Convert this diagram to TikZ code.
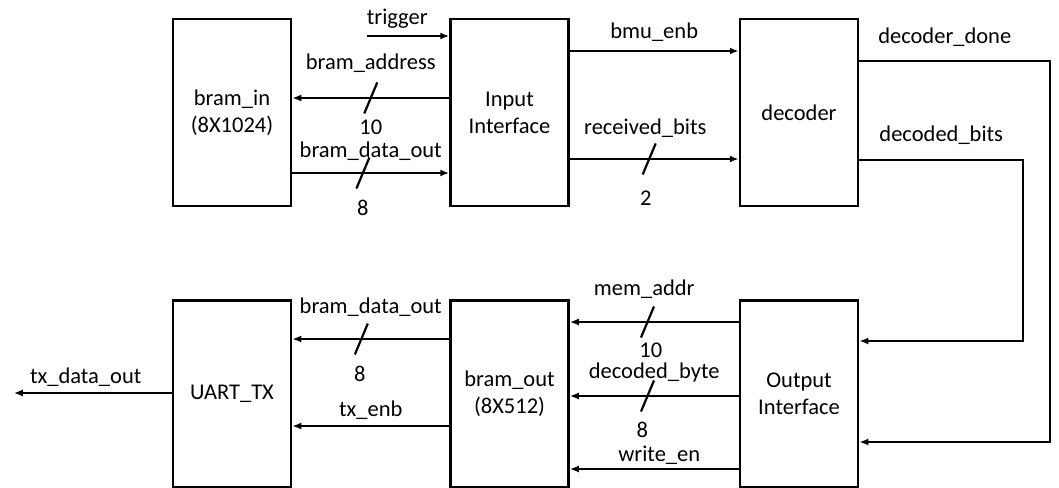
\documentclass[tikz,border=0pt]{standalone}
\usepackage{fontspec}
\setmainfont{Carlito}
\usetikzlibrary{positioning,calc,arrows.meta}

\tikzset{
  block/.style={draw, line width=2.5pt, minimum width=118pt, minimum height=186.5pt, align=center, inner sep=2pt},
  sig/.style={line width=2.2pt, -{Latex[length=9pt,width=7pt]}},
  bus/.style={line width=2.2pt},
}

\begin{document}
\begin{tikzpicture}[x=1pt, y=-1pt, font=\fontsize{22.5}{27}\selectfont, every node/.append style={inner sep=0.5pt}]
  \useasboundingbox (0,0) rectangle (1059,487);
  \clip (0,0) rectangle (1059,487);

  % upper row
  \node (bramin) [block] at (232,112.5) {bram\_in\\(8X1024)};
  \node (inif) [block, right=157pt of bramin] {Input\\Interface};
  \node (dec) [block, right=169pt of inif] {decoder};
  % lower row
  \node (uart) [block, below=92pt of bramin] {UART\_TX};
  \node (bramout) [block, below=92pt of inif] {bram\_out\\(8X512)};
  \node (outif) [block, below=92pt of dec] {Output\\Interface};

  \coordinate (trig) at ([xshift=-82pt, yshift=-18pt]inif.north west);
  \coordinate (txout) at ([xshift=-158pt, yshift=-94pt]uart.north west);

  % upper connectors
  \draw [sig] (trig) -- node[midway, yshift=17pt, xshift=-11pt] {trigger} ([yshift=-18pt]inif.north west);
  \draw [sig] ([yshift=-80pt]inif.north west) -- node[midway, yshift=35pt] {bram\_address}
    coordinate[pos=.5] (ba) node[pos=.5, yshift=-29pt] {10} ([yshift=-80pt]bramin.north east);
  \draw [sig] ([yshift=-155pt]bramin.north east) -- node[midway, yshift=22pt] {bram\_data\_out}
    coordinate[pos=.45] (bd) node[pos=.45, yshift=-35pt] {8} ([yshift=-155pt]inif.north west);
  \draw [sig] ([yshift=-33pt]inif.north east) -- node[midway, yshift=19pt] {bmu\_enb} ([yshift=-33pt]dec.north west);
  \draw [sig] ([yshift=-141pt]inif.north east) -- node[midway, yshift=31pt, xshift=-9pt] {received\_bits}
    coordinate[pos=.47] (rb) node[pos=.45, yshift=-39pt] {2} ([yshift=-141pt]dec.north west);

  % feedback from decoder
  \draw [sig] ([yshift=-43pt]dec.north east) -- ++(191,0) node[midway, yshift=24pt, xshift=-10pt] {decoder\_done}
    |- ([yshift=-143pt]outif.north east);
  \draw [sig] ([yshift=-142pt]dec.north east) -- ++(164,0) node[midway, yshift=25pt] {decoded\_bits}
    |- ([yshift=-42pt]outif.north east);

  % lower connectors
  \draw [sig] ([yshift=-23pt]outif.north west) -- node[midway, yshift=33pt, xshift=-10pt] {mem\_addr}
    coordinate[pos=.54] (ma) node[pos=.52, yshift=-28pt] {10} ([yshift=-23pt]bramout.north east);
  \draw [sig] ([yshift=-97pt]outif.north west) -- node[midway, yshift=24pt] {decoded\_byte}
    coordinate[pos=.54] (db) node[pos=.57, yshift=-34pt] {8} ([yshift=-97pt]bramout.north east);
  \draw [sig] ([yshift=-170pt]outif.north west) -- node[midway, yshift=14pt, xshift=5pt] {write\_en} ([yshift=-170pt]bramout.north east);
  \draw [sig] ([yshift=-40pt]bramout.north west) -- node[midway, yshift=32pt] {bram\_data\_out}
    coordinate[pos=.56] (bo) node[pos=.57, yshift=-35pt] {8} ([yshift=-40pt]uart.north east);
  \draw [sig] ([yshift=-127pt]bramout.north west) -- node[midway, yshift=16pt] {tx\_enb} ([yshift=-127pt]uart.north east);
  \draw [sig] ([yshift=-94pt]uart.north west) -- node[midway, yshift=16pt, xshift=-7pt] {tx\_data\_out} (txout);

  % bus width marks
  \foreach \c in {ba,bd,rb,ma,db,bo}
    \draw [bus] ($(\c)+(6.5,-15.5)$) -- ($(\c)+(-6.5,15.5)$);
\end{tikzpicture}
\end{document}
